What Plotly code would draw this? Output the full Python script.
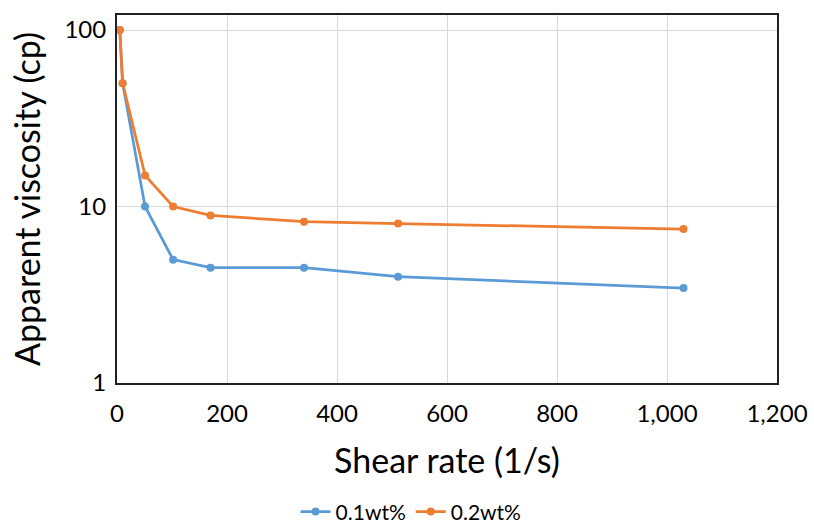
import plotly.graph_objects as go

shear_rate = [5.1, 10.2, 51, 102, 170, 340, 511, 1030]
visc_01 = [100, 50, 10, 5.0, 4.5, 4.5, 4.0, 3.45]
visc_02 = [100, 50, 15, 10, 8.9, 8.2, 8.0, 7.45]
series_names = ["0.1wt%", "0.2wt%"]
y_ticks = [1, 10, 100]
x_ticks = [0, 200, 400, 600, 800, 1000, 1200]

font = "Lato, 'Open Sans', sans-serif"
fig = go.Figure()
fig.add_trace(go.Scatter(x=shear_rate, y=visc_01, name=series_names[0], mode="lines+markers",
                         line=dict(color="#5b9bd5", width=2.75), marker=dict(size=8, color="#5b9bd5")))
fig.add_trace(go.Scatter(x=shear_rate, y=visc_02, name=series_names[1], mode="lines+markers",
                         line=dict(color="#ed7d31", width=2.75), marker=dict(size=8, color="#ed7d31")))

fig.update_layout(
    width=814, height=525,
    margin=dict(l=117, r=37, t=15, b=142, autoexpand=False),
    paper_bgcolor="white", plot_bgcolor="white",
    font=dict(family=font, color="#000000"),
    legend=dict(orientation="h", xref="container", x=0.505, xanchor="center",
                yref="container", y=0.025, yanchor="middle",
                font=dict(size=21), itemwidth=30),
    xaxis=dict(range=[0, 1200], tickvals=x_ticks, tickformat=",d", ticks="",
               showgrid=True, gridcolor="#d9d9d9", gridwidth=1,
               showline=True, linecolor="#222222", linewidth=2, mirror=True,
               tickfont=dict(size=24), zeroline=False, automargin=False,
               ticklabelstandoff=8,
               title=dict(text="Shear rate (1/s)", font=dict(size=34), standoff=23)),
    yaxis=dict(type="log", range=[0, 2.085], tickvals=y_ticks, ticktext=["1", "10", "100"],
               ticks="", showgrid=True, gridcolor="#d9d9d9", gridwidth=1,
               showline=True, linecolor="#222222", linewidth=2, mirror=True,
               tickfont=dict(size=24), zeroline=False, automargin=False,
               ticklabelstandoff=4,
               title=dict(text="Apparent viscosity (cp)", font=dict(size=34), standoff=14)),
)
fig.write_html("out.html")
